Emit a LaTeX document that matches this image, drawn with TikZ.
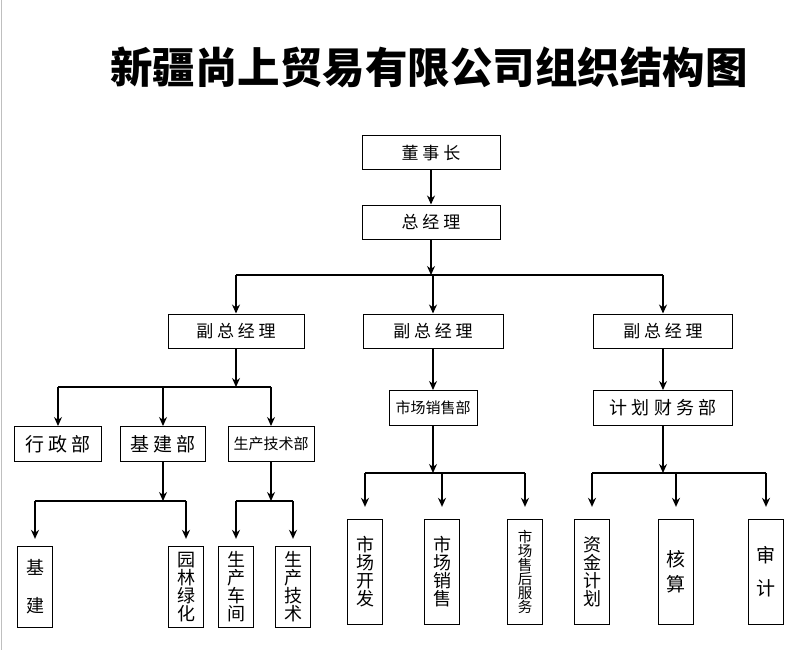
\documentclass[tikz,border=0pt]{standalone}
\usepackage{fontspec}
\setmainfont{Noto Sans CJK SC}
\usetikzlibrary{arrows.meta, positioning}

\begin{document}
\begin{tikzpicture}[x=1pt, y=-1pt,
    box/.style={draw, line width=1pt, minimum height=34pt, inner sep=0pt, font=\fontsize{17}{17}\selectfont},
    vbox/.style={draw, line width=1.3pt, minimum width=35pt, inner sep=0pt, align=center, font=\fontsize{18}{18}\selectfont},
    arr/.style={-{Stealth[length=9pt,width=8pt]}, line width=1.3pt},
    bus/.style={line width=1.3pt}]
    \useasboundingbox (0,0) rectangle (806,650);
    \draw[gray!50, line width=1.5pt] (1.5,0) -- (1.5,650);

    % Title
    \node (title) at (429,67) {\fontsize{42.5}{43}\selectfont\bfseries 新疆尚上贸易有限公司组织结构图};

    % Top level
    \node[box, minimum width=138pt] (dsz) at (431,153) {董 事 长};
    \node[box, minimum width=138pt] (zjl) at (431,222) {总 经 理};
    \draw[arr] (dsz) -- (zjl);

    % Vice general managers
    \node[box, minimum width=136pt] (fzA) at (236,331) {副 总 经 理};
    \node[box, minimum width=140pt] (fzB) at (433,331) {副 总 经 理};
    \node[box, minimum width=139pt] (fzC) at (663,331) {副 总 经 理};
    \coordinate (b1) at (431,275);
    \draw[arr] (zjl) -- (b1);
    \draw[bus] (fzA |- b1) -- (fzC |- b1);
    \foreach \n in {fzA,fzB,fzC} \draw[arr] (\n |- b1) -- (\n);

    % Left branch
    \node[box, minimum width=87pt, minimum height=35pt, font=\fontsize{19}{19}\selectfont] (xz) at (58,444) {行 政 部};
    \node[box, minimum width=85pt, minimum height=35pt, font=\fontsize{19}{19}\selectfont] (jj) at (163,444) {基 建 部};
    \node[box, minimum width=86pt, minimum height=35pt, font=\fontsize{15}{15}\selectfont] (sc) at (271,444) {生产技术部};
    \coordinate (b2) at (236,387);
    \draw[arr] (fzA) -- (b2);
    \draw[bus] (xz |- b2) -- (sc |- b2);
    \foreach \n in {xz,jj,sc} \draw[arr] (\n |- b2) -- (\n);

    \node[vbox, minimum height=81pt] (jz) at (35,587) {基\\[20pt]建};
    \node[vbox, minimum height=81pt] (yl) at (186,587) {园\\林\\绿\\化};
    \node[vbox, minimum height=81pt] (cj) at (236,587) {生\\产\\车\\间};
    \node[vbox, minimum height=81pt] (js) at (293,587) {生\\产\\技\\术};
    \coordinate (b3) at (163,501);
    \draw[arr] (jj) -- (b3);
    \draw[bus] (jz |- b3) -- (yl |- b3);
    \foreach \n in {jz,yl} \draw[arr, shorten >=7pt] (\n |- b3) -- (\n);
    \coordinate (b4) at (271,501);
    \draw[arr] (sc) -- (b4);
    \draw[bus] (cj |- b4) -- (js |- b4);
    \foreach \n in {cj,js} \draw[arr, shorten >=7pt] (\n |- b4) -- (\n);

    % Middle branch
    \node[box, minimum width=88pt, minimum height=35pt, font=\fontsize{15}{15}\selectfont] (xs) at (433,408) {市场销售部};
    \draw[arr] (fzB) -- (xs);
    \node[vbox, minimum height=105pt] (kf) at (365,572) {市\\场\\开\\发};
    \node[vbox, minimum height=105pt] (xsh) at (442,572) {市\\场\\销\\售};
    \node[vbox, minimum height=105pt, font=\fontsize{14.5}{14}\selectfont] (sh) at (525,572) {市\\场\\售\\后\\服\\务};
    \coordinate (b5) at (433,473);
    \draw[arr] (xs) -- (b5);
    \draw[bus] (kf |- b5) -- (sh |- b5);
    \foreach \n in {kf,xsh,sh} \draw[arr, shorten >=12pt] (\n |- b5) -- (\n);

    % Right branch
    \node[box, minimum width=139pt, minimum height=35pt, font=\fontsize{18}{18}\selectfont] (cw) at (663,408) {计 划 财 务 部};
    \draw[arr] (fzC) -- (cw);
    \node[vbox, minimum height=105pt] (zj) at (592,572) {资\\金\\计\\划};
    \node[vbox, minimum height=105pt, font=\fontsize{19}{19}\selectfont] (hs) at (676,572) {核\\[6pt]算};
    \node[vbox, minimum height=105pt, font=\fontsize{19}{19}\selectfont] (sj) at (766,572) {审\\[14pt]计};
    \coordinate (b6) at (663,473);
    \draw[arr] (cw) -- (b6);
    \draw[bus] (zj |- b6) -- (sj |- b6);
    \foreach \n in {zj,hs,sj} \draw[arr, shorten >=12pt] (\n |- b6) -- (\n);
\end{tikzpicture}
\end{document}
